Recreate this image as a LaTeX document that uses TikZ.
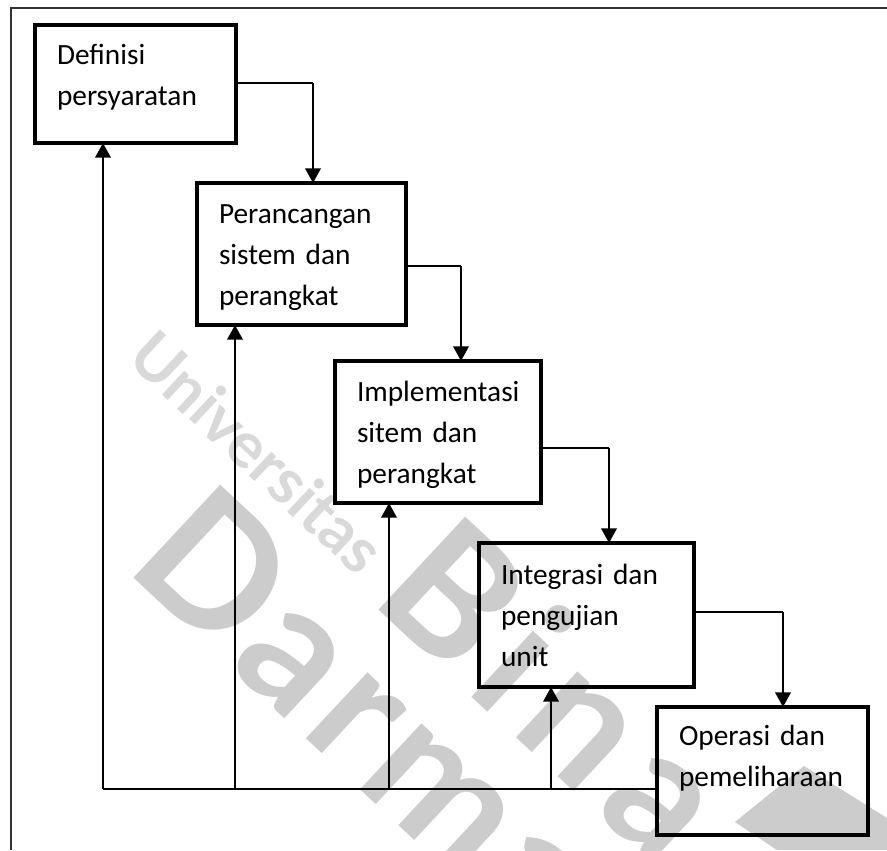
\documentclass[tikz,border=0pt]{standalone}
\usepackage{xcolor}
\usepackage{fontspec}
\setmainfont{Carlito}
\newfontfamily\stampfont{Lato}
\usetikzlibrary{arrows.meta,positioning}

\begin{document}
\begin{tikzpicture}[
    x=0.75pt, y=-0.75pt,
    box/.style={draw, line width=2.6pt, outer sep=0pt, inner xsep=16.5pt, inner ysep=0pt, align=left, font=\fontsize{22}{30.75}\selectfont},
    flow/.style={line width=1.4pt},
    drop/.style={line width=2pt, -{Triangle[length=11pt,width=11.5pt]}},
    rail/.style={line width=1.6pt},
    stamp/.style={text=black!20, font=\stampfont\bfseries\fontsize{132}{132}\selectfont, rotate=-43}
]
    \useasboundingbox (0,0) rectangle (887,850);
    \draw[line width=1.5pt, black!80] (11,850) -- (11,8) -- (887,8);

    % watermark
    \node[stamp, text=black!15, font=\stampfont\bfseries\fontsize{48}{48}\selectfont] (univ) at (258,452) {Universitas};
    \node[stamp] (bina) at (557,688) {\addfontfeature{LetterSpace=9}Bina};
    \node[stamp] (darma) at (371,713) {\addfontfeature{LetterSpace=5}Darma};
    \fill[black!20] (735,822) -- (804,766) -- (887,818) -- (887,850) -- (777,850) -- cycle;

    \node[box, anchor=north west, text width=117.75pt, minimum height=88.5pt] (definisi) at (35,25) {Definisi\\persyaratan\rule[-13.5pt]{0pt}{0pt}};
    \node[box, below right=30pt and -29.25pt of definisi, text width=123.75pt, minimum height=106.5pt] (perancangan) {\rule{0pt}{20pt}Perancangan\\sistem dan\\perangkat};
    \node[box, below right=27pt and -53.25pt of perancangan, text width=121.5pt, minimum height=106.5pt] (implementasi) {\rule{0pt}{20pt}Implementasi\\sitem dan\\perangkat};
    \node[box, below right=30pt and -46.5pt of implementasi, text width=128.25pt, minimum height=108pt] (integrasi) {Integrasi dan\\pengujian\\unit};
    \node[box, below right=15pt and -27.75pt of integrasi, text width=125.25pt, minimum height=96pt] (operasi) {Operasi dan\\pemeliharaan\rule[-22.5pt]{0pt}{0pt}};

    % going down
    \draw[flow] ([yshift=1pt]definisi.east) -- ++(57.75pt,0) coordinate (turnA);
    \draw[drop] (turnA) -- (turnA |- perancangan.north);
    \draw[flow] ([yshift=-9pt]perancangan.east) -- ++(41.25pt,0) coordinate (turnB);
    \draw[drop] (turnB) -- (turnB |- implementasi.north);
    \draw[flow] ([yshift=-12pt]implementasi.east) -- ++(51pt,0) coordinate (turnC);
    \draw[drop] (turnC) -- (turnC |- integrasi.north);
    \draw[flow] ([yshift=2.25pt]integrasi.east) -- ++(66.75pt,0) coordinate (turnD);
    \draw[drop] (turnD) -- (turnD |- operasi.north);

    % going back
    \coordinate (back) at ([yshift=-13.5pt]operasi.west);
    \coordinate (backA) at ([xshift=-24.4pt]definisi.south);
    \coordinate (backB) at ([xshift=-49.9pt]perancangan.south);
    \coordinate (backC) at ([xshift=-36.75pt]implementasi.south);
    \coordinate (backD) at ([xshift=-26.6pt]integrasi.south);
    \draw[rail] (back) -- (backA |- back);
    \draw[drop] (backA |- back) -- (backA);
    \draw[drop] (backB |- back) -- (backB);
    \draw[drop] (backC |- back) -- (backC);
    \draw[drop] (backD |- back) -- (backD);
\end{tikzpicture}
\end{document}
